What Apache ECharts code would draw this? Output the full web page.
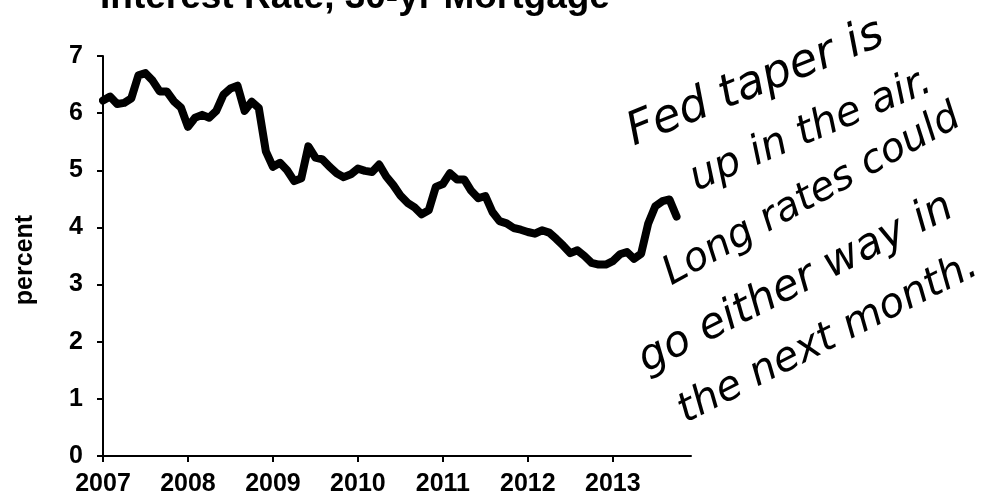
<!DOCTYPE html>
<html>
<head>
<meta charset="utf-8">
<script src="https://cdn.jsdelivr.net/npm/echarts@6/dist/echarts.min.js"></script>
<style>
html,body{margin:0;padding:0;background:#fff;}
#chart{width:990px;height:501px;}
</style>
</head>
<body>
<div id="chart"></div>
<script>
// Monthly 30-yr mortgage rate, Jan 2007 .. Oct 2013
var months = [
 '2007-01','2007-02','2007-03','2007-04','2007-05','2007-06','2007-07','2007-08','2007-09','2007-10','2007-11','2007-12',
 '2008-01','2008-02','2008-03','2008-04','2008-05','2008-06','2008-07','2008-08','2008-09','2008-10','2008-11','2008-12',
 '2009-01','2009-02','2009-03','2009-04','2009-05','2009-06','2009-07','2009-08','2009-09','2009-10','2009-11','2009-12',
 '2010-01','2010-02','2010-03','2010-04','2010-05','2010-06','2010-07','2010-08','2010-09','2010-10','2010-11','2010-12',
 '2011-01','2011-02','2011-03','2011-04','2011-05','2011-06','2011-07','2011-08','2011-09','2011-10','2011-11','2011-12',
 '2012-01','2012-02','2012-03','2012-04','2012-05','2012-06','2012-07','2012-08','2012-09','2012-10','2012-11','2012-12',
 '2013-01','2013-02','2013-03','2013-04','2013-05','2013-06','2013-07','2013-08','2013-09','2013-10'
];
var rates = [
 6.22,6.29,6.16,6.18,6.26,6.66,6.70,6.57,6.38,6.38,6.21,6.10,
 5.76,5.92,5.97,5.92,6.04,6.32,6.43,6.48,6.04,6.20,6.09,5.33,
 5.06,5.13,5.00,4.81,4.86,5.42,5.22,5.19,5.06,4.95,4.88,4.93,
 5.03,4.99,4.97,5.10,4.89,4.74,4.56,4.43,4.35,4.23,4.30,4.71,
 4.76,4.95,4.84,4.84,4.64,4.51,4.55,4.27,4.11,4.07,3.99,3.96,
 3.92,3.89,3.95,3.91,3.80,3.68,3.55,3.60,3.50,3.38,3.35,3.35,
 3.41,3.53,3.57,3.45,3.54,4.07,4.37,4.46,4.49,4.19
];
var yearTicks = [2007,2008,2009,2010,2011,2012,2013];
var yTicks = [0,1,2,3,4,5,6,7];
var titleText = 'Interest Rate, 30-yr Mortgage';
var yAxisTitle = 'percent';
var noteLines = ['Fed taper is','up in the air.','Long rates could','go either way in','the next month.'];

var seriesData = months.map(function(m, i){
  var p = m.split('-');
  return [Number(p[0]) + (Number(p[1]) - 1) / 12, rates[i]];
});

var FONT = '"Liberation Sans", Arial, sans-serif';
var HAND = '"DejaVu Sans", sans-serif';
var notePos = [
  {x:638, y:156, r:22, fs:46},
  {x:700, y:200, r:23, fs:41},
  {x:676, y:294, r:29, fs:40},
  {x:651, y:382, r:27, fs:43},
  {x:690, y:432, r:27, fs:41}
];

var chart = echarts.init(document.getElementById('chart'));
chart.setOption({
  backgroundColor:'#fff',
  animation:false,
  title:{
    text:titleText, left:95, top:-26, padding:5,
    textStyle:{fontFamily:FONT, fontWeight:'bold', fontSize:37, color:'#000'}
  },
  grid:{left:103, right:299, top:56, bottom:45, containLabel:false},
  xAxis:{
    type:'value', min:2007, max:2013.92, interval:1,
    axisLine:{show:true, onZero:false, lineStyle:{color:'#000', width:2}},
    axisTick:{show:true, length:6, lineStyle:{color:'#000', width:2}, customValues:yearTicks},
    axisLabel:{customValues:yearTicks, margin:16, color:'#000', fontFamily:FONT, fontWeight:'bold', fontSize:25,
      formatter:function(v){return String(v);}},
    splitLine:{show:false}
  },
  yAxis:{
    type:'value', min:0, max:7, interval:1,
    axisLine:{show:true, lineStyle:{color:'#000', width:2}},
    axisTick:{show:true, length:6, lineStyle:{color:'#000', width:2}, customValues:yTicks},
    axisLabel:{customValues:yTicks, margin:20, color:'#000', fontFamily:FONT, fontWeight:'bold', fontSize:25},
    splitLine:{show:false}
  },
  graphic: [{
    type:'text', x:25, y:260, rotation:Math.PI/2,
    style:{text:yAxisTitle, fill:'#000', font:'bold 25px ' + FONT, align:'center', verticalAlign:'middle'}
  }].concat(noteLines.map(function(t, i){
    var p = notePos[i];
    return {
      type:'text', x:p.x, y:p.y, rotation:p.r * Math.PI / 180,
      style:{text:t, fill:'#000', font:'oblique ' + p.fs + 'px ' + HAND, align:'left', verticalAlign:'bottom'}
    };
  })),
  series:[{
    type:'line', data:seriesData, showSymbol:false, symbol:'none',
    lineStyle:{color:'#000', width:8, cap:'round', join:'round'}
  }]
});
</script>
</body>
</html>
